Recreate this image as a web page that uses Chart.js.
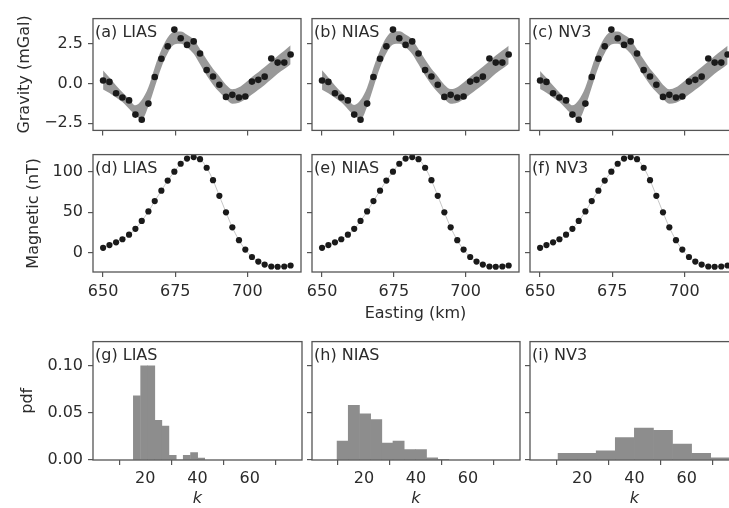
<!DOCTYPE html>
<html>
<head>
<meta charset="utf-8">
<script src="https://cdn.jsdelivr.net/npm/chart.js@4.4.0/dist/chart.umd.min.js"></script>
<style>
  html, body { margin: 0; padding: 0; background: #fff; }
  body { position: relative; width: 729px; height: 508px; overflow: hidden; }
  canvas { position: absolute; }
</style>
</head>
<body>
<script>
// ---- data ----
var easting = [650.0, 652.2, 654.5, 656.7, 659.0, 661.2, 663.4, 665.7, 667.9, 670.2,
               672.4, 674.7, 676.9, 679.1, 681.4, 683.6, 685.9, 688.1, 690.3, 692.6,
               694.8, 697.1, 699.3, 701.6, 703.8, 706.0, 708.3, 710.5, 712.8, 715.0];

var gravityObs = [0.18, 0.09, -0.62, -0.89, -1.07, -1.96, -2.28, -1.27, 0.40, 1.54,
                  2.32, 3.37, 2.83, 2.41, 2.63, 1.87, 0.83, 0.43, -0.09, -0.85,
                  -0.72, -0.89, -0.82, 0.11, 0.22, 0.42, 1.56, 1.30, 1.30, 1.81];

var magneticObs = [6, 9.4, 12.8, 16.6, 22.2, 29.4, 39.2, 50.9, 63.7, 76.5,
                   89, 99.9, 109.7, 116.1, 118, 115.4, 104.8, 89.4, 70.1, 49.8,
                   31.3, 15.5, 3.8, -5.3, -10.9, -14.7, -17, -17.3, -17, -15.8];

// gravity model envelopes
var liasUpper = [0.80, 0.36, -0.14, -0.56, -1.00, -1.38, -1.05, -0.25, 1.00, 2.10,
                 2.88, 3.24, 3.25, 3.05, 2.75, 2.15, 1.50, 0.92, 0.45, -0.08,
                 -0.37, -0.25, 0.04, 0.40, 0.70, 1.02, 1.37, 1.72, 2.05, 2.39];
var liasLower = [-0.38, -0.60, -0.88, -1.17, -1.60, -2.00, -2.25, -1.45, -0.25, 1.00,
                 1.88, 2.43, 2.48, 2.25, 1.85, 1.20, 0.50, -0.08, -0.55, -0.98,
                 -1.28, -1.22, -1.00, -0.70, -0.40, -0.10, 0.25, 0.60, 0.90, 1.20];
var niasUpper = [0.82, 0.37, -0.13, -0.56, -1.00, -1.36, -1.05, -0.26, 0.98, 2.08,
                 2.88, 3.25, 3.26, 3.06, 2.75, 2.15, 1.50, 0.92, 0.45, -0.08,
                 -0.36, -0.24, 0.05, 0.41, 0.72, 1.04, 1.39, 1.74, 2.06, 2.36];
var niasLower = [-0.40, -0.62, -0.90, -1.19, -1.62, -2.02, -2.26, -1.46, -0.26, 0.99,
                 1.88, 2.43, 2.48, 2.25, 1.84, 1.19, 0.49, -0.09, -0.56, -0.98,
                 -1.28, -1.22, -0.99, -0.69, -0.39, -0.09, 0.26, 0.62, 0.92, 1.22];
var nv3Upper = [0.78, 0.35, -0.14, -0.57, -1.01, -1.38, -1.04, -0.24, 1.00, 2.10,
                2.88, 3.24, 3.25, 3.05, 2.74, 2.14, 1.49, 0.91, 0.44, -0.08,
                -0.37, -0.25, 0.04, 0.40, 0.70, 1.02, 1.37, 1.72, 2.04, 2.36];
var nv3Lower = [-0.36, -0.59, -0.88, -1.17, -1.60, -2.00, -2.24, -1.44, -0.25, 1.00,
                1.88, 2.43, 2.48, 2.25, 1.85, 1.20, 0.50, -0.08, -0.55, -0.98,
                -1.28, -1.22, -1.00, -0.70, -0.40, -0.10, 0.25, 0.60, 0.90, 1.20];

// posterior of k (histogram bin centres and densities)
var liasK = [16.8, 19.6, 22.3, 25.0, 27.7, 30.5, 33.2, 35.9, 38.7, 41.4];
var liasPdf = [0.068, 0.100, 0.100, 0.042, 0.036, 0.005, 0.0, 0.005, 0.008, 0.002];
var niasK = [11.8, 16.1, 20.4, 24.7, 29.0, 33.3, 37.6, 41.9, 46.2, 50.5];
var niasPdf = [0.020, 0.058, 0.049, 0.043, 0.018, 0.020, 0.011, 0.011, 0.0023, 0.0007];
var nv3K = [14.4, 21.7, 29.0, 36.3, 43.6, 50.9, 58.2, 65.5, 72.8];
var nv3Pdf = [0.0071, 0.0071, 0.0097, 0.0237, 0.0338, 0.0315, 0.0169, 0.0071, 0.0023];

// ticks and labels
var eastingTicks = [650, 675, 700];
var gravityTicks = [-2.5, 0, 2.5];
var magneticTicks = [0, 50, 100];
var pdfTicks = [0, 0.05, 0.10];
var kTicks = [20, 40, 60];
var gravityLabels = ['(a) LIAS', '(b) NIAS', '(c) NV3'];
var magneticLabels = ['(d) LIAS', '(e) NIAS', '(f) NV3'];
var pdfLabels = ['(g) LIAS', '(h) NIAS', '(i) NV3'];

// ---- layout ----
var colLeft = [93, 312, 530];
var colWidth = [209, 208, 209];
var rowTop = [8, 144, 331];
var rowBottom = [137, 272, 460];
var xAxisH = [8, 58, 48];
var YW = 93, PT = 4, PR = 3;

var TEXT = '#2b2b2b';
var AXIS = '#555555';
Chart.defaults.font.family = "'DejaVu Sans', sans-serif";
Chart.defaults.font.size = 16;
Chart.defaults.color = TEXT;
Chart.defaults.animation = false;

function pts(xs, ys) {
  return xs.map(function(x, i) { return { x: x, y: ys[i] }; });
}

function fmtMinus(v, d) {
  return v.toFixed(d).replace('-', '\u2212');
}

var framePlugin = {
  id: 'frame',
  afterDatasetsDraw: function(chart, args, opts) {
    var a = chart.chartArea, ctx = chart.ctx;
    ctx.save();
    ctx.strokeStyle = AXIS;
    ctx.lineWidth = 1.3;
    ctx.strokeRect(a.left, a.top, a.right - a.left, a.bottom - a.top);
    ctx.fillStyle = TEXT;
    ctx.font = "16px 'DejaVu Sans', sans-serif";
    ctx.textBaseline = 'middle';
    ctx.fillText(opts.label, a.left + 2, a.top + 14);
    ctx.restore();
  }
};

function makePanel(col, row, cfg) {
  var c = document.createElement('canvas');
  var w = YW + colWidth[col] + PR;
  var h = PT + (rowBottom[row] - rowTop[row]) + xAxisH[row];
  c.width = w; c.height = h;
  c.style.left = (colLeft[col] - YW) + 'px';
  c.style.top = (rowTop[row] - PT) + 'px';
  c.style.width = w + 'px'; c.style.height = h + 'px';
  document.body.appendChild(c);

  var xTitle = cfg.xTitle || '';
  new Chart(c, {
    type: cfg.type,
    data: { datasets: cfg.datasets },
    plugins: [framePlugin],
    options: {
      responsive: false,
      devicePixelRatio: 1,
      layout: { padding: { left: 0, top: PT, right: PR, bottom: 0 } },
      plugins: {
        legend: { display: false },
        tooltip: { enabled: false },
        frame: { label: cfg.label }
      },
      scales: {
        x: {
          type: 'linear',
          min: cfg.xMin, max: cfg.xMax,
          offset: false,
          afterBuildTicks: function(s) { s.ticks = cfg.xTicks.map(function(v) { return { value: v }; }); },
          afterFit: function(s) { s.height = xAxisH[row]; },
          border: { display: false },
          grid: { drawOnChartArea: false, drawTicks: true, tickLength: 5, color: AXIS, lineWidth: 1.2 },
          ticks: {
            autoSkip: false, maxRotation: 0, padding: cfg.xPad || 4,
            callback: function(v) { return cfg.showX ? String(v) : ''; }
          },
          title: {
            display: xTitle !== '',
            text: xTitle,
            padding: { top: 0, bottom: cfg.xTitlePad || 0 },
            font: { style: cfg.xTitleItalic ? 'italic' : 'normal' }
          }
        },
        y: {
          type: 'linear',
          min: cfg.yMin, max: cfg.yMax,
          afterBuildTicks: function(s) { s.ticks = cfg.yTicks.map(function(v) { return { value: v }; }); },
          afterFit: function(s) { s.width = YW; },
          border: { display: false },
          grid: { drawOnChartArea: false, drawTicks: true, tickLength: 5, color: AXIS, lineWidth: 1.2 },
          ticks: {
            autoSkip: false, padding: 5,
            callback: function(v) { return col === 0 ? fmtMinus(v, cfg.yDec) : ''; }
          },
          title: {
            display: col === 0,
            text: cfg.yTitle,
            padding: { top: cfg.yTitlePad, bottom: 0 }
          }
        }
      }
    }
  });
}

var bandUppers = [liasUpper, niasUpper, nv3Upper];
var bandLowers = [liasLower, niasLower, nv3Lower];
var kSets = [liasK, niasK, nv3K];
var pdfSets = [liasPdf, niasPdf, nv3Pdf];

for (var col = 0; col < 3; col++) {
  // gravity
  makePanel(col, 0, {
    type: 'scatter', label: gravityLabels[col],
    xMin: 646.5, xMax: 718.6, xTicks: eastingTicks, showX: false,
    yMin: -2.95, yMax: 4.06, yTicks: gravityTicks, yDec: 1,
    yTitle: 'Gravity (mGal)', yTitlePad: 15,
    datasets: [
      { data: pts(easting, gravityObs), pointRadius: 3.3, pointBackgroundColor: '#1a1a1a', pointBorderWidth: 0, showLine: false },
      { data: pts(easting, bandUppers[col]), showLine: true, borderWidth: 0, pointRadius: 0,
        cubicInterpolationMode: 'monotone', fill: '+1', backgroundColor: '#999999', borderColor: 'rgba(0,0,0,0)' },
      { data: pts(easting, bandLowers[col]), showLine: true, borderWidth: 0, pointRadius: 0,
        cubicInterpolationMode: 'monotone', fill: false, borderColor: 'rgba(0,0,0,0)' }
    ]
  });
  // magnetic
  makePanel(col, 1, {
    type: 'scatter', label: magneticLabels[col],
    xMin: 646.5, xMax: 718.6, xTicks: eastingTicks, showX: true, xPad: 5,
    xTitle: col === 1 ? 'Easting (km)' : '', xTitlePad: 7,
    yMin: -23.8, yMax: 121, yTicks: magneticTicks, yDec: 0,
    yTitle: 'Magnetic (nT)', yTitlePad: 24,
    datasets: [
      { data: pts(easting, magneticObs), pointRadius: 3.1, pointBackgroundColor: '#1a1a1a', pointBorderWidth: 0, showLine: false },
      { data: pts(easting, magneticObs), showLine: true, borderWidth: 1, borderColor: '#c4c4c4', pointRadius: 0, tension: 0.4 }
    ]
  });
  // k posterior
  makePanel(col, 2, {
    type: 'bar', label: pdfLabels[col],
    xMin: 0, xMax: 80, xTicks: kTicks, showX: true, xPad: 4,
    xTitle: 'k', xTitleItalic: true, xTitlePad: 0,
    yMin: 0, yMax: 0.1257, yTicks: pdfTicks, yDec: 2,
    yTitle: 'pdf', yTitlePad: 18,
    datasets: [
      { data: pts(kSets[col], pdfSets[col]), backgroundColor: '#8d8d8d', borderWidth: 0,
        barPercentage: 1, categoryPercentage: 1 }
    ]
  });
}
</script>
</body>
</html>
